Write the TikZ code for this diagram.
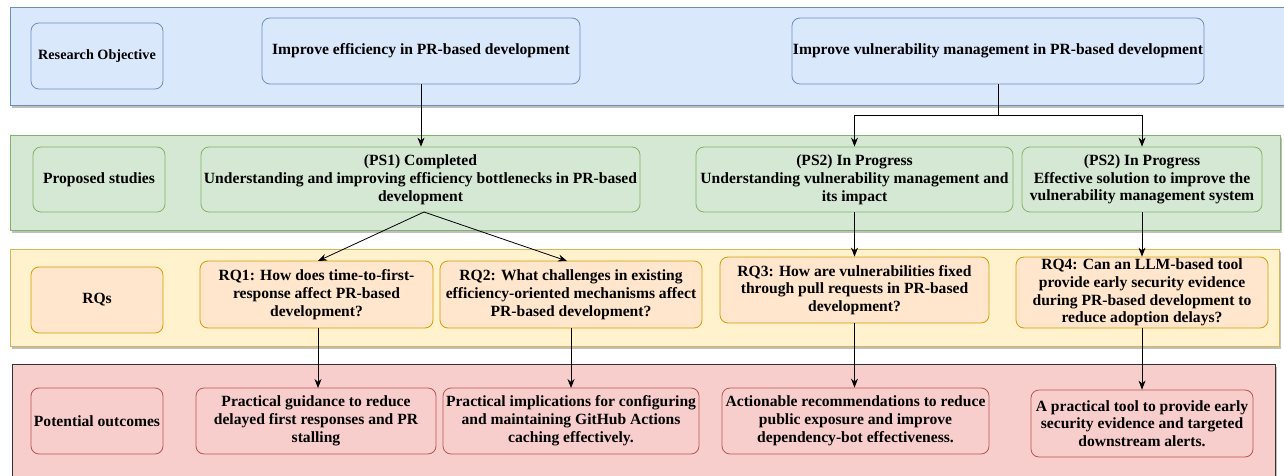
\documentclass[tikz,border=0pt]{standalone}
\usepackage{fontspec}
\setmainfont{Liberation Serif}
\usetikzlibrary{arrows.meta,shadows}
\definecolor{bandblue}{HTML}{DAE8FC}
\definecolor{lineblue}{HTML}{6C8EBF}
\definecolor{bandgreen}{HTML}{D5E8D4}
\definecolor{linegreen}{HTML}{82B366}
\definecolor{bandyellow}{HTML}{FFF2CC}
\definecolor{lineyellow}{HTML}{D6B656}
\definecolor{boxorange}{HTML}{FFE6CC}
\definecolor{lineorange}{HTML}{D79B00}
\definecolor{bandred}{HTML}{F8CECC}
\definecolor{linered}{HTML}{B85450}
\begin{document}
\begin{tikzpicture}[x=1pt,y=-1pt,
  bandshadow/.style={drop shadow={shadow xshift=1.5pt,shadow yshift=-3pt,opacity=0.25,fill=black}},
  band/.style={line width=0.8pt,bandshadow},
  txt/.style={font=\fontsize{15.6}{17.8}\selectfont\bfseries,align=center,inner sep=1pt},
  small/.style={font=\fontsize{14.2}{17}\selectfont\bfseries},
  box/.style={txt,rounded corners=8pt,line width=0.8pt,anchor=center},
  bbox/.style={box,draw=lineblue,fill=bandblue},
  gbox/.style={box,draw=linegreen,fill=bandgreen},
  obox/.style={box,draw=lineorange,fill=boxorange},
  rbox/.style={box,draw=linered,fill=bandred},
  conn/.style={line width=0.8pt,draw=black},
  arr/.style={conn,-{Stealth[length=9pt,width=7pt]}}
]
\useasboundingbox (0,0) rectangle (1284,476);
\clip (0,0) rectangle (1284,476);
% bands
\draw[band,fill=bandblue,draw=lineblue] (10,7) rectangle (1295,105);
\draw[band,fill=bandgreen,draw=linegreen] (10,135) rectangle (1280,230);
\draw[band,fill=bandyellow,draw=lineyellow] (10,249) rectangle (1279,346);
\draw[band,fill=bandred,draw=black!80] (12,364) rectangle (1275,490);

% row 1
\node[bbox,small,minimum width=132pt,minimum height=66pt] (ro) at (97,56) {Research Objective};
\node[bbox,minimum width=318pt,minimum height=66pt] (ie) at (421,51) {Improve efficiency in PR-based development};
\node[bbox,minimum width=410pt,minimum height=66pt] (iv) at (998,51) {Improve vulnerability management in PR-based development};

% row 2
\node[gbox,minimum width=132pt,minimum height=65pt] (ps) at (99,179.5) {Proposed studies};
\node[gbox,minimum width=439pt,minimum height=65pt] (ps1) at (420.5,179.5) {(PS1) Completed\\Understanding and improving efficiency bottlenecks in PR-based\\development};
\node[gbox,minimum width=317pt,minimum height=65pt] (ps2a) at (854.5,179.5) {(PS2) In Progress\\Understanding vulnerability management and\\its impact};
\node[gbox,minimum width=240pt,minimum height=65pt] (ps2b) at (1142,179.5) {(PS2) In Progress\\Effective solution to improve the\\vulnerability management system};

% row 3
\node[obox,minimum width=132pt,minimum height=66pt] (rqs) at (97,300) {RQs};
\node[obox,minimum width=233pt,minimum height=67pt] (rq1) at (316.5,294.5) {RQ1: How does time-to-first-\\response affect PR-based\\development?};
\node[obox,minimum width=262pt,minimum height=67pt] (rq2) at (571,294.5) {RQ2: What challenges in existing\\efficiency-oriented mechanisms affect\\PR-based development?};
\node[obox,minimum width=269pt,minimum height=66pt] (rq3) at (854.5,290) {RQ3: How are vulnerabilities fixed\\through pull requests in PR-based\\development?};
\node[obox,minimum width=252pt,minimum height=71pt,inner sep=0pt] (rq4) at (1142,292.5) {RQ4: Can an LLM-based tool\\provide early security evidence\\during PR-based development to\\reduce adoption delays?};

% row 4
\node[rbox,minimum width=132pt,minimum height=66pt] (po) at (97,421) {Potential outcomes};
\node[rbox,minimum width=240pt,minimum height=66pt] (o1) at (316,421) {Practical guidance to reduce\\delayed first responses and PR\\stalling};
\node[rbox,minimum width=256pt,minimum height=66pt] (o2) at (571,421) {Practical implications for configuring\\and maintaining GitHub Actions\\caching effectively.};
\node[rbox,minimum width=267pt,minimum height=66pt] (o3) at (855.5,421) {Actionable recommendations to reduce\\public exposure and improve\\dependency-bot effectiveness.};
\node[rbox,minimum width=222pt,minimum height=67pt] (o4) at (1142,423.5) {A practical tool to provide early\\security evidence and targeted\\downstream alerts.};

% connectors
\draw[arr] (ie.south) -- (ie.south |- ps1.north);
\coordinate (ivj) at (998,115);
\draw[conn] (iv.south) -- (ivj);
\draw[arr] (ivj) -| (ps2a.north);
\draw[arr] (ivj) -| (ps2b.north);
\coordinate (ps1b) at (424,212);
\draw[arr] (ps1b) -- (318,261);
\draw[arr] (ps1b) -- (567,261);
\draw[arr] (ps2a.south) -- (rq3.north);
\draw[arr] (ps2b.south) -- (rq4.north);
\draw[arr] (318,328) -- (318,388);
\draw[arr] (571,328) -- (571,388);
\draw[arr] (rq3.south) -- (rq3.south |- o3.north);
\draw[arr] (rq4.south) -- (o4.north);
\end{tikzpicture}
\end{document}
